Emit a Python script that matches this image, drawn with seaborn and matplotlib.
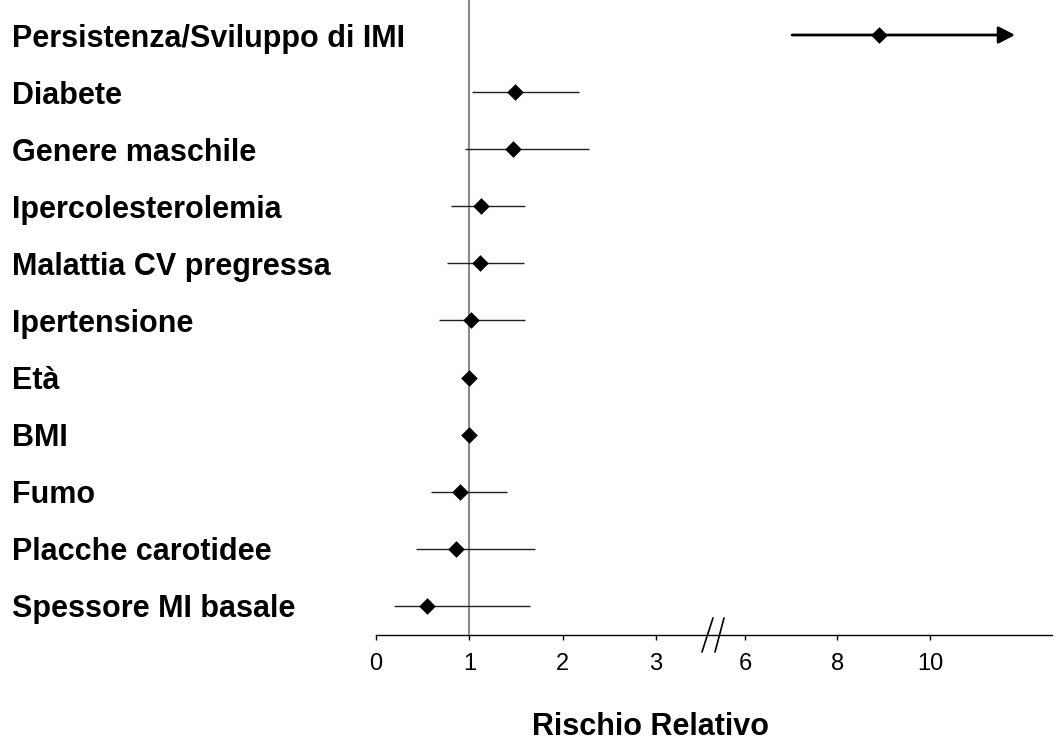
import numpy as np
import pandas as pd
import matplotlib
matplotlib.use("Agg")
import matplotlib.pyplot as plt
import seaborn as sns

# Relative risks with 95% confidence intervals
categories = [
    "Persistenza/Sviluppo di IMI",
    "Diabete",
    "Genere maschile",
    "Ipercolesterolemia",
    "Malattia CV pregressa",
    "Ipertensione",
    "Età",
    "BMI",
    "Fumo",
    "Placche carotidee",
    "Spessore MI basale",
]
rr = [8.9, 1.49, 1.47, 1.13, 1.11, 1.02, 1.0, 1.0, 0.90, 0.86, 0.55]
ci_low = [7.02, 1.03, 0.95, 0.80, 0.76, 0.67, 0.99, 0.99, 0.59, 0.43, 0.19]
ci_high = [11.84, 2.18, 2.28, 1.60, 1.59, 1.60, 1.01, 1.01, 1.40, 1.70, 1.65]
x_ticks = [0, 1, 2, 3, 6, 8, 10]
x_label = "Rischio Relativo"

df = pd.DataFrame({"factor": categories, "rr": rr, "lo": ci_low, "hi": ci_high})
df["pos"] = np.arange(len(df))

sns.set_theme(style="white")
plt.rcParams["font.family"] = ["Liberation Sans", "DejaVu Sans"]
plt.rcParams["text.color"] = "black"
plt.rcParams["xtick.color"] = "black"
plt.rcParams["ytick.color"] = "black"
plt.rcParams["xtick.labelcolor"] = "black"
plt.rcParams["ytick.labelcolor"] = "black"

# Broken axis: 0-3.6 linear, compressed gap, then 6+ at half the density
B1, B2 = 3.6, 6.0
U2 = 3.954
SLOPE = 0.4955


def fwd(v):
    v = np.asarray(v, dtype=float)
    return np.where(v <= B1, v,
                    np.where(v < B2, B1 + (v - B1) * (U2 - B1) / (B2 - B1),
                             U2 + (v - B2) * SLOPE))


def inv(u):
    u = np.asarray(u, dtype=float)
    return np.where(u <= B1, u,
                    np.where(u < U2, B1 + (u - B1) * (B2 - B1) / (U2 - B1),
                             B2 + (u - U2) / SLOPE))


fig = plt.figure(figsize=(10.56, 7.42), dpi=100)
ax = fig.add_axes([376 / 1056, 1 - 635 / 742, (1052 - 376) / 1056, 635 / 742])

# reference line at RR = 1
ax.axvline(1, color="#8a8a8a", lw=1.5, zorder=1)

# confidence intervals (the first row is open-ended and drawn as an arrow)
rest = df.iloc[1:]
ax.hlines(rest["pos"], rest["lo"], rest["hi"], color="#222222", lw=1.0, zorder=2)
top = df.iloc[0]
ax.annotate("", xy=(top["hi"], top["pos"]), xytext=(top["lo"], top["pos"]),
            arrowprops=dict(arrowstyle="-|>,head_length=0.5,head_width=0.26",
                            mutation_scale=20, lw=2.0, color="black",
                            shrinkA=0, shrinkB=0), zorder=2)

sns.scatterplot(data=df, x="rr", y="pos", marker="D", s=72, color="black",
                linewidth=0, ax=ax, zorder=3, legend=False)

ax.set_xscale("function", functions=(fwd, inv))
ax.set_xlim(0, 12.64)
ax.set_ylim(10.508, -0.613)

ax.set_xticks(x_ticks)
ax.set_xticklabels([str(t) for t in x_ticks])
ax.xaxis.set_minor_locator(matplotlib.ticker.NullLocator())
ax.tick_params(axis="x", direction="out", length=3.6, width=1.0, color="black",
               labelsize=17, pad=9.5, bottom=True, labelcolor="black")

ax.set_yticks(df["pos"])
ax.set_yticklabels(df["factor"])
ax.tick_params(axis="y", length=0, pad=262, labelsize=22, labelcolor="black")
for lab in ax.get_yticklabels():
    lab.set_ha("left")
    lab.set_fontweight("bold")

for side in ("left", "right", "top"):
    ax.spines[side].set_visible(False)
ax.spines["bottom"].set_color("black")
ax.spines["bottom"].set_linewidth(1.0)
ax.set_xlabel("")
ax.set_ylabel("")

# axis break marks
for x0, x1 in ((0.4985, 0.4822), (0.5148, 0.5015)):
    ax.plot([x0, x1], [0.0268, -0.0268], transform=ax.transAxes,
            color="black", lw=1.2, clip_on=False, zorder=4)

fig.text(650 / 1056, 1 - 735 / 742, x_label, ha="center", va="baseline",
         fontsize=22, fontweight="bold", color="black")

fig.savefig("out.png", dpi=100)
